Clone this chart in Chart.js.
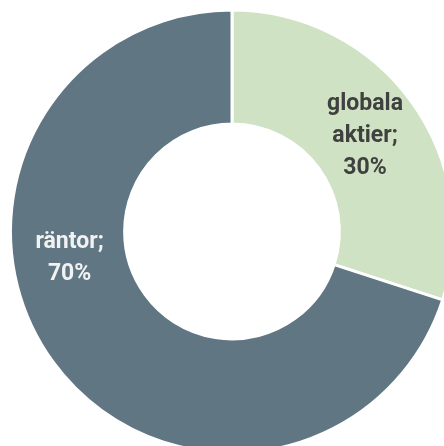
<!DOCTYPE html>
<html>
<head>
<meta charset="utf-8">
<script src="https://cdn.jsdelivr.net/npm/chart.js@4/dist/chart.umd.min.js"></script>
<style>
  html, body { margin: 0; padding: 0; background: #ffffff; overflow: hidden; width: 444px; height: 446px; }
  #wrap { position: absolute; left: 0; top: 0; width: 464px; height: 463px; }
</style>
</head>
<body>
<div id="wrap"><canvas id="c" width="464" height="463"></canvas></div>
<script>
// Data
const categories = ["globala aktier", "räntor"];
const values = [30, 70];
const labelLines = [["globala", "aktier;", "30%"], ["räntor;", "70%"]];

// Style
const sliceColors = ["#cfe2c3", "#607682"];
const labelColors = ["#404040", "#f2f2f2"];
// label direction in degrees clockwise from 12 o'clock (null = slice middle)
const labelAngles = [null, 261];

const labelPlugin = {
  id: 'sliceLabels',
  afterDatasetsDraw(chart) {
    const ctx = chart.ctx;
    const meta = chart.getDatasetMeta(0);
    meta.data.forEach((arc, i) => {
      const p = arc.getProps(['x', 'y', 'startAngle', 'endAngle', 'innerRadius', 'outerRadius'], true);
      const ang = labelAngles[i] == null ? (p.startAngle + p.endAngle) / 2 : (labelAngles[i] - 90) * Math.PI / 180;
      const r = (p.innerRadius + p.outerRadius) / 2;
      const cx = p.x + Math.cos(ang) * r;
      const cy = p.y + Math.sin(ang) * r;
      const lines = labelLines[i];
      const lh = 32;
      ctx.save();
      ctx.font = 'bold 23px Roboto';
      ctx.fillStyle = labelColors[i];
      ctx.textAlign = 'center';
      ctx.textBaseline = 'middle';
      lines.forEach((t, k) => {
        ctx.fillText(t, cx, cy + 1 + (k - (lines.length - 1) / 2) * lh);
      });
      ctx.restore();
    });
  }
};

new Chart(document.getElementById('c'), {
  type: 'doughnut',
  data: {
    labels: categories,
    datasets: [{
      data: values,
      backgroundColor: sliceColors,
      borderColor: '#ffffff',
      borderWidth: 3,
      hoverOffset: 0
    }]
  },
  options: {
    responsive: false,
    animation: false,
    devicePixelRatio: 1,
    radius: 221.5,
    cutout: 111.5,
    rotation: 0,
    layout: { padding: 0 },
    plugins: {
      legend: { display: false },
      tooltip: { enabled: false }
    }
  },
  plugins: [labelPlugin]
});
</script>
</body>
</html>
